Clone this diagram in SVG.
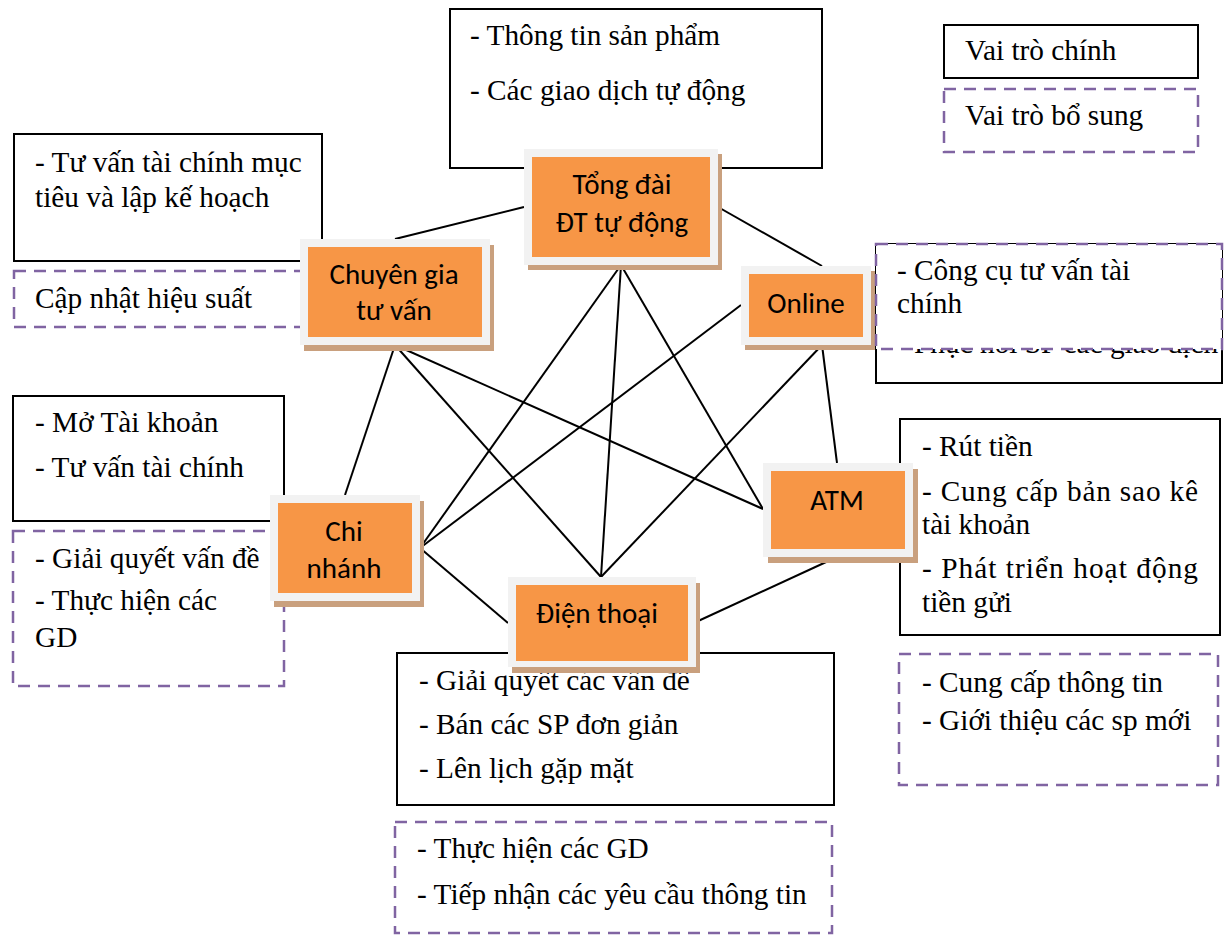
<svg xmlns="http://www.w3.org/2000/svg" width="1224" height="935" viewBox="0 0 1224 935">
<style>
.box{fill:#fff;stroke:#000;stroke-width:2}
.dbox{fill:#fff;stroke:#8064A2;stroke-width:2.5;stroke-dasharray:12 8}
.t{font-family:"Liberation Serif","Times New Roman",serif;font-size:29.3px;fill:#000}
.n{font-family:Carlito,Lato,"Liberation Sans",sans-serif;font-size:29px;fill:#000;text-anchor:middle}
.sh{fill:#C9A07E}
.fr{fill:#F2F2F2}
.or{fill:#F79646}
#connectors line{stroke:#000;stroke-width:2}
</style>
<rect width="1224" height="935" fill="#fff"/>

<g id="legend">
<rect class="box" x="944" y="25" width="254" height="53"/>
<text class="t" x="965" y="60">Vai trò chính</text>
<rect class="dbox" x="944" y="89" width="254" height="63"/>
<text class="t" x="965" y="125">Vai trò bổ sung</text>
</g>

<g id="tongdai-roles">
<rect class="box" x="450" y="9" width="372" height="159"/>
<text class="t" x="470" y="45">- Thông tin sản phẩm</text>
<text class="t" x="470" y="100">- Các giao dịch tự động</text>
</g>

<g id="chuyengia-roles">
<rect class="box" x="14" y="134" width="308" height="127"/>
<text class="t" x="35" y="172">- Tư vấn tài chính mục</text>
<text class="t" x="35" y="207">tiêu và lập kế hoạch</text>
<rect class="dbox" x="14" y="271" width="308" height="56"/>
<text class="t" x="35" y="308">Cập nhật hiệu suất</text>
</g>

<g id="chinhanh-roles">
<rect class="box" x="13" y="396" width="271" height="125"/>
<text class="t" x="35" y="432">- Mở Tài khoản</text>
<text class="t" x="35" y="477">- Tư vấn tài chính</text>
<rect class="dbox" x="13" y="531" width="271" height="155"/>
<text class="t" x="35" y="568">- Giải quyết vấn đề</text>
<text class="t" x="35" y="610">- Thực hiện các</text>
<text class="t" x="35" y="647">GD</text>
</g>

<g id="dienthoai-roles">
<rect class="box" x="397" y="653" width="437" height="152"/>
<text class="t" x="419" y="690">- Giải quyết các vấn đề</text>
<text class="t" x="419" y="734">- Bán các SP đơn giản</text>
<text class="t" x="419" y="778">- Lên lịch gặp mặt</text>
<rect class="dbox" x="395" y="822" width="437" height="111"/>
<text class="t" x="417" y="858">- Thực hiện các GD</text>
<text class="t" x="417" y="904">- Tiếp nhận các yêu cầu thông tin</text>
</g>

<g id="atm-roles">
<rect class="box" x="900" y="419" width="320" height="216"/>
<text class="t" x="922" y="456">- Rút tiền</text>
<text class="t" x="922" y="501" textLength="276" lengthAdjust="spacing">- Cung cấp bản sao kê</text>
<text class="t" x="922" y="534">tài khoản</text>
<text class="t" x="922" y="578" textLength="276" lengthAdjust="spacing">- Phát triển hoạt động</text>
<text class="t" x="922" y="612">tiền gửi</text>
<rect class="dbox" x="899" y="654" width="319" height="131"/>
<text class="t" x="922" y="692">- Cung cấp thông tin</text>
<text class="t" x="922" y="730">- Giới thiệu các sp mới</text>
</g>

<g id="online-roles-main">
<rect class="box" x="876" y="244" width="346" height="139"/>
<text class="t" x="897" y="353">- Phục hồi SP các giao dịch</text>
</g>

<g id="connectors">
<line x1="524" y1="207" x2="395" y2="239"/>
<line x1="718" y1="207" x2="822" y2="266"/>
<line x1="621" y1="265" x2="420" y2="548"/>
<line x1="621" y1="265" x2="601" y2="577"/>
<line x1="621" y1="265" x2="763" y2="509"/>
<line x1="395" y1="345" x2="345" y2="495"/>
<line x1="395" y1="345" x2="601" y2="577"/>
<line x1="395" y1="345" x2="763" y2="509"/>
<line x1="741" y1="305" x2="420" y2="548"/>
<line x1="822" y1="345" x2="601" y2="577"/>
<line x1="822" y1="345" x2="837" y2="463"/>
<line x1="508" y1="623" x2="420" y2="548"/>
<line x1="696" y1="622" x2="837" y2="557"/>
</g>

<g id="tongdai">
<rect class="sh" x="528" y="154" width="194" height="116"/>
<rect class="fr" x="524" y="149" width="194" height="116"/>
<rect class="or" x="532" y="157" width="178" height="100"/>
<text class="n" x="622" y="194">Tổng đài</text>
<text class="n" x="622" y="232">ĐT tự động</text>
</g>

<g id="chuyengia">
<rect class="sh" x="304" y="245" width="190" height="106"/>
<rect class="fr" x="300" y="239" width="190" height="106"/>
<rect class="or" x="308" y="247" width="174" height="90"/>
<text class="n" x="394" y="284">Chuyên gia</text>
<text class="n" x="394" y="320">tư vấn</text>
</g>

<g id="chinhanh">
<rect class="sh" x="274" y="501" width="150" height="106"/>
<rect class="fr" x="270" y="495" width="150" height="106"/>
<rect class="or" x="278" y="503" width="134" height="90"/>
<text class="n" x="344" y="541">Chi</text>
<text class="n" x="344" y="578">nhánh</text>
</g>

<g id="dienthoai">
<rect class="sh" x="512" y="583" width="188" height="90"/>
<rect class="fr" x="508" y="577" width="188" height="90"/>
<rect class="or" x="516" y="585" width="172" height="76"/>
<text class="n" x="597" y="623">Điện thoại</text>
</g>

<g id="atm">
<rect class="sh" x="768" y="469" width="150" height="94"/>
<rect class="fr" x="763" y="463" width="150" height="94"/>
<rect class="or" x="771" y="471" width="134" height="78"/>
<text class="n" x="837" y="510">ATM</text>
</g>

<g id="online">
<rect class="sh" x="745" y="271" width="130" height="79"/>
<rect class="fr" x="741" y="266" width="130" height="79"/>
<rect class="or" x="749" y="274" width="114" height="63"/>
<text class="n" x="806" y="313">Online</text>
</g>

<g id="online-roles-extra">
<rect class="dbox" x="876" y="244" width="346" height="105"/>
<text class="t" x="897" y="280">- Công cụ tư vấn tài</text>
<text class="t" x="897" y="313">chính</text>
</g>
</svg>
